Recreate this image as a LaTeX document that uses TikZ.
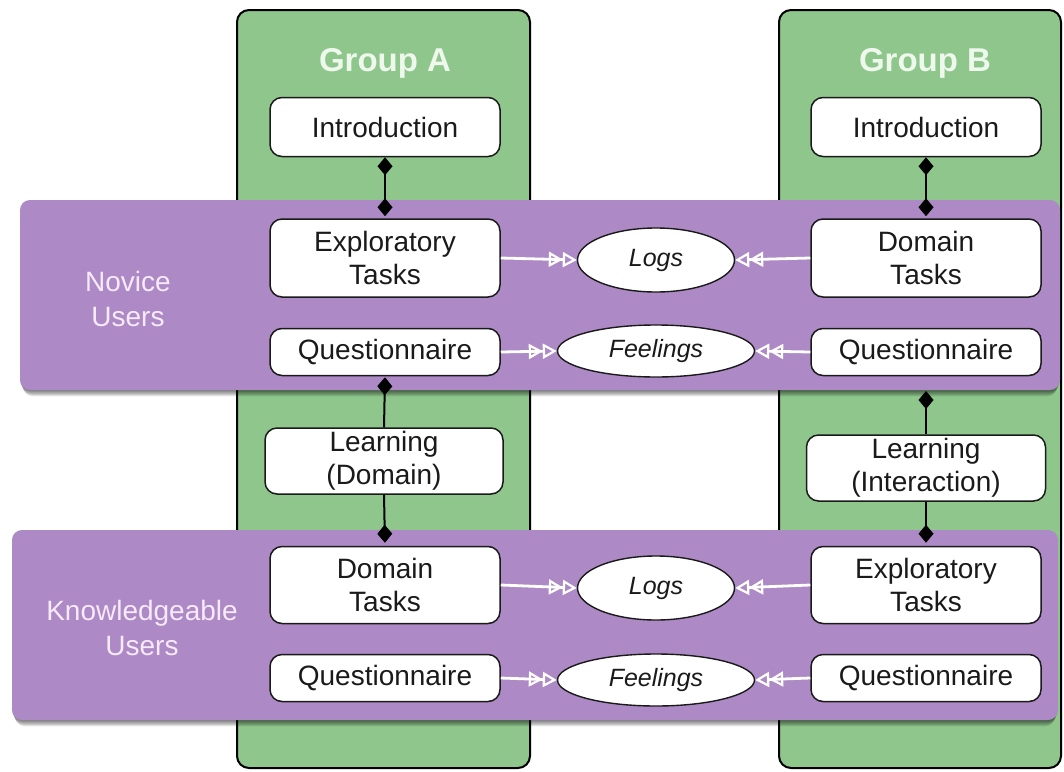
\documentclass[tikz,border=0pt]{standalone}
\usepackage{fontspec}
\setmainfont{Liberation Sans}
\usetikzlibrary{arrows.meta,shapes.geometric}
\definecolor{groupgreen}{HTML}{8EC68C}
\definecolor{bandpurple}{HTML}{AD89C5}
\definecolor{titlewhite}{HTML}{EEF8EC}
\definecolor{bandtext}{HTML}{F6EAF8}
\definecolor{ink}{HTML}{1A1A1A}
\tikzset{
  dtip/.tip={Diamond[length=18pt,width=15pt]},
  otri/.tip={Triangle[open,length=14pt,width=15pt,line width=2.2pt]}
}
\begin{document}
\begin{tikzpicture}[x=1pt,y=-1pt,
  groupcol/.style={draw=black,line width=2pt,fill=groupgreen,rounded corners=12pt},
  band/.style={fill=bandpurple,rounded corners=10pt},
  softshade/.style={fill=black,fill opacity=0.09,rounded corners=10pt},
  grouptitle/.style={text=titlewhite,font=\fontsize{33}{38}\selectfont\bfseries},
  bandlabel/.style={text=bandtext,font=\fontsize{28}{35}\selectfont,align=center},
  stepbox/.style={draw=ink,line width=1.5pt,fill=white,rounded corners=12pt,
    minimum width=230pt,inner sep=0pt,align=center,text=ink,
    font=\fontsize{28}{33}\selectfont},
  dataell/.style={ellipse,draw=ink,line width=1.4pt,fill=white,inner sep=0pt,
    text=ink,font=\fontsize{25}{30}\selectfont\itshape},
  link/.style={draw=black,line width=2pt},
  feed/.style={draw=white,line width=2.8pt,-{otri[]otri[]}}
]
\useasboundingbox (0,0) rectangle (1064,771);

% group columns
\draw[groupcol] (237,10) rectangle (530,768);
\draw[groupcol] (779,10) rectangle (1061,768);
\node[grouptitle] (titleA) at (385,63) {Group A};
\node[grouptitle] (titleB) at (925,63) {Group B};

% soft shadows under the user bands
\foreach \d in {1,2,...,7}{
  \fill[softshade] (20+0.4*\d,200+\d) rectangle (1060-0.4*\d,390+0.9*\d);
  \fill[softshade] (12+0.4*\d,530+\d) rectangle (1058-0.4*\d,720+0.9*\d);
}

% user bands
\fill[band] (20,200) rectangle (1060,390);
\fill[band] (12,530) rectangle (1058,720);
\node[bandlabel] (novice) at (128,299) {Novice\\Users};
\node[bandlabel] (know) at (142,628) {Knowledgeable\\Users};

% group A steps
\node[stepbox,minimum height=59pt] (introA) at (385,127) {Introduction};
\node[stepbox,minimum height=78pt] (explA) at (385,258) {Exploratory\\Tasks};
\node[stepbox,minimum height=47pt] (quesA) at (385,352) {Questionnaire};
\node[stepbox,minimum height=66pt,minimum width=238pt] (learnA) at (384,461) {Learning\\(Domain)};
\node[stepbox,minimum height=77pt] (domA) at (385,585) {Domain\\Tasks};
\node[stepbox,minimum height=47pt] (quesA2) at (385,678) {Questionnaire};

% group B steps
\node[stepbox,minimum height=59pt] (introB) at (926,127) {Introduction};
\node[stepbox,minimum height=78pt] (domB) at (926,258) {Domain\\Tasks};
\node[stepbox,minimum height=47pt] (quesB) at (926,352) {Questionnaire};
\node[stepbox,minimum height=66pt,minimum width=239pt] (learnB) at (926,468) {Learning\\(Interaction)};
\node[stepbox,minimum height=77pt] (explB) at (926,585) {Exploratory\\Tasks};
\node[stepbox,minimum height=47pt] (quesB2) at (926,678) {Questionnaire};

% collected data
\node[dataell,minimum width=157pt,minimum height=64pt] (logs1) at (656,260) {Logs};
\node[dataell,minimum width=197pt,minimum height=52pt] (feel1) at (656,351) {Feelings};
\node[dataell,minimum width=157pt,minimum height=64pt] (logs2) at (656,588) {Logs};
\node[dataell,minimum width=197pt,minimum height=52pt] (feel2) at (656,680) {Feelings};

% sequence links
\draw[link,dtip-dtip,shorten >=2pt] (introA.south) -- (explA.north);
\draw[link,dtip-,shorten <=1pt] (quesA.south) -- (learnA.north);
\draw[link,-dtip,shorten >=3pt] (learnA.south) -- (domA.north);
\draw[link,dtip-dtip,shorten >=2pt] (introB.south) -- (domB.north);
\coordinate (startB) at (926,391);
\draw[link,dtip-] (startB) -- (learnB.north);
\draw[link,-dtip,shorten >=3pt] (learnB.south) -- (explB.north);

% data flows
\draw[feed] (explA.east) -- (logs1.west);
\draw[feed] (domB.west) -- (logs1.east);
\draw[feed] (quesA.east) -- (feel1.west);
\draw[feed] (quesB.west) -- (feel1.east);
\draw[feed] (domA.east) -- (logs2.west);
\draw[feed] (explB.west) -- (logs2.east);
\draw[feed] (quesA2.east) -- (feel2.west);
\draw[feed] (quesB2.west) -- (feel2.east);
\end{tikzpicture}
\end{document}
